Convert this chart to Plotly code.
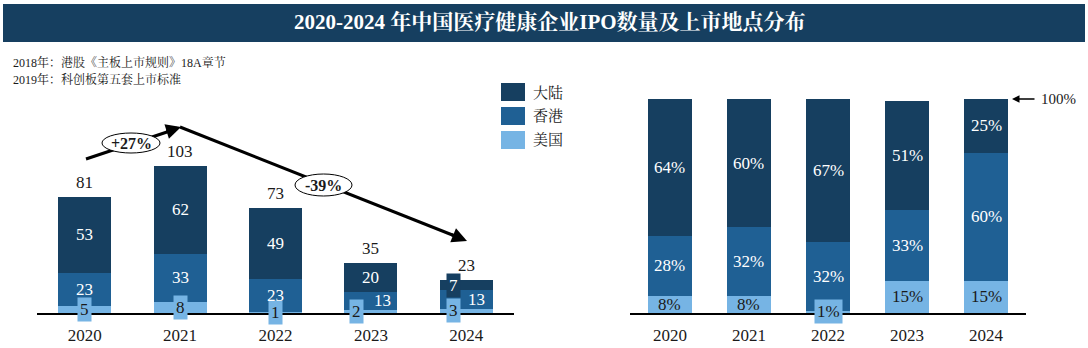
import plotly.graph_objects as go

# ---------------- data ----------------
years = ["2020", "2021", "2022", "2023", "2024"]
series_names = ["大陆", "香港", "美国"]
mainland = [53, 62, 49, 20, 7]
hongkong = [23, 33, 23, 13, 13]
us = [5, 8, 1, 2, 3]
pct_mainland = [64, 60, 67, 51, 25]
pct_hongkong = [28, 32, 32, 33, 60]
pct_us = [8, 8, 1, 15, 15]
growth_labels = ["+27%", "-39%"]
title_text = "2020-2024 年中国医疗健康企业IPO数量及上市地点分布"
notes = ["2018年：港股《主板上市规则》18A章节", "2019年：科创板第五套上市标准"]

# ---------------- style ----------------
C_DARK = "#163F60"
C_MID = "#1F6094"
C_LIGHT = "#76B4E4"
TXT = "#1a1a1a"
FONT = "Liberation Serif, Noto Serif CJK SC, Noto Sans CJK SC, serif"
W, H = 1088, 348

def px(x):
    return x / W

def py(y):
    return 1 - y / H

totals = [a + b + c for a, b, c in zip(us, hongkong, mainland)]

fig = go.Figure()
xs = list(range(len(years)))

# left: counts
for vals, name, col in [(us, series_names[2], C_LIGHT), (hongkong, series_names[1], C_MID), (mainland, series_names[0], C_DARK)]:
    fig.add_trace(go.Bar(x=xs, y=vals, name=name, marker=dict(color=col, line=dict(width=0)),
                         width=0.556, xaxis="x", yaxis="y", showlegend=False, hoverinfo="skip"))
# right: percentages
for vals, name, col in [(pct_us, series_names[2], C_LIGHT), (pct_hongkong, series_names[1], C_MID), (pct_mainland, series_names[0], C_DARK)]:
    fig.add_trace(go.Bar(x=xs, y=vals, name=name, marker=dict(color=col, line=dict(width=0)),
                         width=0.557, xaxis="x2", yaxis="y2", showlegend=False, hoverinfo="skip"))

ann = []
shapes = []
seg_font = dict(family=FONT, size=17, color="white")
dark_font = dict(family=FONT, size=17, color=TXT)

def pann(x, y, text, font, xanchor="center", **kw):
    d = dict(x=px(x), y=py(y), xref="paper", yref="paper", text=text, showarrow=False,
             xanchor=xanchor, yanchor="middle", font=font)
    d.update(kw)
    ann.append(d)

def parrow(hx, hy, tx, ty, width):
    ann.append(dict(x=px(hx), y=py(hy), xref="paper", yref="paper", ax=tx - hx, ay=ty - hy,
                    axref="pixel", ayref="pixel", text="", showarrow=True,
                    arrowhead=2, arrowsize=1, arrowwidth=width, arrowcolor="black",
                    xanchor="center", yanchor="middle"))

def pline(x0, y0, x1, y1, width):
    shapes.append(dict(type="line", xref="paper", yref="paper", x0=px(x0), y0=py(y0), x1=px(x1), y1=py(y1),
                       line=dict(color="black", width=width), layer="above"))

# left labels
us_shift = [0, 0, 0, -14, -13]
hk_shift = [0, 0, 0, 12, 10]
ml_shift = [0, 0, 0, 0, -13]
for i in xs:
    a, b, c = us[i], hongkong[i], mainland[i]
    ann.append(dict(x=i, y=a / 2, xref="x", yref="y", text=str(a), showarrow=False,
                    font=dark_font, bgcolor=C_LIGHT, borderpad=2, xshift=us_shift[i]))
    ann.append(dict(x=i, y=a + b / 2, xref="x", yref="y", text=str(b), showarrow=False,
                    font=seg_font, xshift=hk_shift[i]))
    d = dict(x=i, y=a + b + c / 2, xref="x", yref="y", text=str(c), showarrow=False,
             font=seg_font, xshift=ml_shift[i])
    if c < 10:
        d.update(bgcolor=C_DARK, borderpad=2)
    ann.append(d)
    ann.append(dict(x=i, y=totals[i], xref="x", yref="y", text=str(totals[i]), showarrow=False,
                    font=dict(family=FONT, size=17, color=TXT), yanchor="bottom", yshift=3))

# right labels
for i in xs:
    a, b, c = pct_us[i], pct_hongkong[i], pct_mainland[i]
    d = dict(x=i, y=a / 2, xref="x2", yref="y2", text=f"{a}%", showarrow=False, font=dark_font)
    if a < 5:
        d.update(bgcolor=C_LIGHT, borderpad=2)
    ann.append(d)
    ann.append(dict(x=i, y=a + b / 2, xref="x2", yref="y2", text=f"{b}%", showarrow=False, font=seg_font))
    ann.append(dict(x=i, y=a + b + c / 2, xref="x2", yref="y2", text=f"{c}%", showarrow=False, font=seg_font))

# 100% marker
parrow(1012, 99, 1036, 99, 1.5)
pann(1039, 99, "100%", dict(family=FONT, size=15, color=TXT), xanchor="left")

# title bar
shapes.append(dict(type="rect", xref="paper", yref="paper", x0=px(3), x1=px(1085), y0=py(42), y1=py(4),
                   fillcolor=C_DARK, line=dict(width=0), layer="below"))

# trend lines (drawn before ellipses so the ellipses cover them)
pline(86, 159, 176, 129, 3)
pline(180, 127, 460, 238, 3)
parrow(181, 127, 165, 132, 3)
parrow(467, 241, 450, 234, 3)

# ellipses
for (cx, cy, w, h), lab in zip([(131, 143, 58, 20), (323.5, 185, 57, 22)], growth_labels):
    shapes.append(dict(type="circle", xref="paper", yref="paper", x0=px(cx - w / 2), x1=px(cx + w / 2),
                       y0=py(cy + h / 2), y1=py(cy - h / 2), fillcolor="white",
                       line=dict(color="black", width=1), layer="above"))
    pann(cx, cy, f"<b>{lab}</b>", dict(family=FONT, size=16, color=TXT))

# legend (manual)
for k, (name, col) in enumerate(zip(series_names, [C_DARK, C_MID, C_LIGHT])):
    y0 = 83 + k * 24
    shapes.append(dict(type="rect", xref="paper", yref="paper", x0=px(501), x1=px(525), y0=py(y0 + 18), y1=py(y0),
                       fillcolor=col, line=dict(width=0)))
    pann(531, y0 + 9, name, dict(family=FONT, size=15, color=TXT), xanchor="left")

# title
pann(550, 22, f"<b>{title_text}</b>", dict(family=FONT, size=21, color="white"))
# notes
for k, t in enumerate(notes):
    pann(11, 63 + 16 * k, t, dict(family=FONT, size=12, color=TXT), xanchor="left")

axis_common = dict(tickmode="array", tickvals=xs, ticktext=years, showgrid=False, zeroline=False,
                   showline=True, linecolor="black", linewidth=1.5, ticks="",
                   tickfont=dict(family=FONT, size=17, color=TXT), ticklabelstandoff=6, fixedrange=True)
fig.update_layout(
    width=W, height=H, margin=dict(l=0, r=0, t=0, b=0),
    paper_bgcolor="white", plot_bgcolor="rgba(0,0,0,0)",
    barmode="stack", bargap=0,
    xaxis=dict(domain=[px(37), px(514)], range=[-0.5, 4.5], anchor="y", **axis_common),
    yaxis=dict(domain=[py(313), py(60)], range=[0, 253 / 1.432], visible=False, fixedrange=True),
    xaxis2=dict(domain=[px(630), px(1026)], range=[-0.506, 4.506], anchor="y2", **axis_common),
    yaxis2=dict(domain=[py(313), py(60)], range=[0, 253 / 2.14], visible=False, fixedrange=True),
    annotations=ann, shapes=shapes, showlegend=False,
)
fig.write_html("out.html")
